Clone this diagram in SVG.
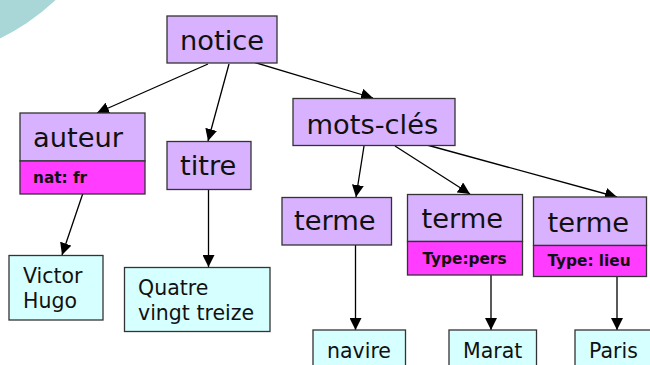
<svg xmlns="http://www.w3.org/2000/svg" width="650" height="365" viewBox="0 0 650 365">
<style>
.p{fill:#D8B2FF;stroke:#333;stroke-width:1.3}
.m{fill:#FF3CFF;stroke:#333;stroke-width:1.3}
.c{fill:#D6FFFF;stroke:#333;stroke-width:1.3}
.big{font-family:"DejaVu Sans",Verdana,sans-serif;font-size:27.3px;fill:#111}
.med{font-family:"DejaVu Sans",Verdana,sans-serif;font-size:20.5px;fill:#111}
.sm{font-family:"DejaVu Sans",Verdana,sans-serif;font-size:15.3px;font-weight:bold;fill:#111}
.e{stroke:#000;stroke-width:1.3;fill:none;marker-end:url(#ah)}
</style>
<defs>
<marker id="ah" markerWidth="12" markerHeight="12" refX="12" refY="6" orient="auto" markerUnits="userSpaceOnUse"><path d="M0,0 L12,6 L0,12 z" fill="#000"/></marker>
</defs>
<rect width="650" height="365" fill="#fff"/>
<circle cx="-98" cy="-163" r="224" fill="#A9D6D6"/>
<g id="connectors">
<line class="e" x1="208" y1="64" x2="97" y2="113"/>
<line class="e" x1="229" y1="64" x2="208" y2="141"/>
<line class="e" x1="250" y1="61" x2="373" y2="98"/>
<line class="e" x1="83" y1="193" x2="62" y2="255"/>
<line class="e" x1="208.5" y1="189" x2="208.5" y2="267"/>
<line class="e" x1="364" y1="146" x2="356" y2="197"/>
<line class="e" x1="395" y1="146" x2="470" y2="194"/>
<line class="e" x1="427" y1="145" x2="617" y2="197"/>
<line class="e" x1="355.5" y1="245" x2="355.5" y2="330"/>
<line class="e" x1="491" y1="275" x2="491" y2="330"/>
<line class="e" x1="617" y1="276" x2="617" y2="330"/>
</g>
<g id="notice">
<rect class="p" x="167" y="16" width="110" height="47"/>
<text class="big" x="180" y="50">notice</text>
</g>
<g id="auteur">
<rect class="p" x="20" y="113" width="125" height="48"/>
<rect class="m" x="20" y="161" width="125" height="33"/>
<text class="big" x="33" y="146.5">auteur</text>
<text class="sm" x="33" y="183">nat: fr</text>
</g>
<g id="titre">
<rect class="p" x="167" y="141.5" width="84" height="48"/>
<text class="big" x="180" y="175">titre</text>
</g>
<g id="victor-hugo">
<rect class="c" x="9" y="255.5" width="94" height="64.5"/>
<text class="med" x="23" y="282.5">Victor</text>
<text class="med" x="23" y="307.5">Hugo</text>
</g>
<g id="quatre-vingt-treize">
<rect class="c" x="124.5" y="267.5" width="145.5" height="64"/>
<text class="med" x="138" y="295">Quatre</text>
<text class="med" x="138" y="320">vingt treize</text>
</g>
<g id="mots-cles">
<rect class="p" x="293" y="98.5" width="162" height="47"/>
<text class="big" x="306.5" y="133.5">mots-clés</text>
</g>
<g id="terme1">
<rect class="p" x="282" y="197.5" width="109.5" height="47.5"/>
<text class="big" x="294" y="230">terme</text>
</g>
<g id="terme2">
<rect class="p" x="407.5" y="194.5" width="115" height="47"/>
<rect class="m" x="407.5" y="241.5" width="115" height="33.5"/>
<text class="big" x="421.5" y="228">terme</text>
<text class="sm" x="422.5" y="264">Type:pers</text>
</g>
<g id="terme3">
<rect class="p" x="533.5" y="197" width="113" height="48.5"/>
<rect class="m" x="533.5" y="245.5" width="113" height="31"/>
<text class="big" x="547.5" y="231.5">terme</text>
<text class="sm" x="547.5" y="266">Type: lieu</text>
</g>
<g id="navire">
<rect class="c" x="313" y="330" width="92.5" height="45"/>
<text class="med" x="327" y="357.5">navire</text>
</g>
<g id="marat">
<rect class="c" x="449" y="330" width="87.5" height="45"/>
<text class="med" x="463" y="357.5">Marat</text>
</g>
<g id="paris">
<rect class="c" x="575" y="330" width="80" height="45"/>
<text class="med" x="589" y="357.5">Paris</text>
</g>
</svg>
